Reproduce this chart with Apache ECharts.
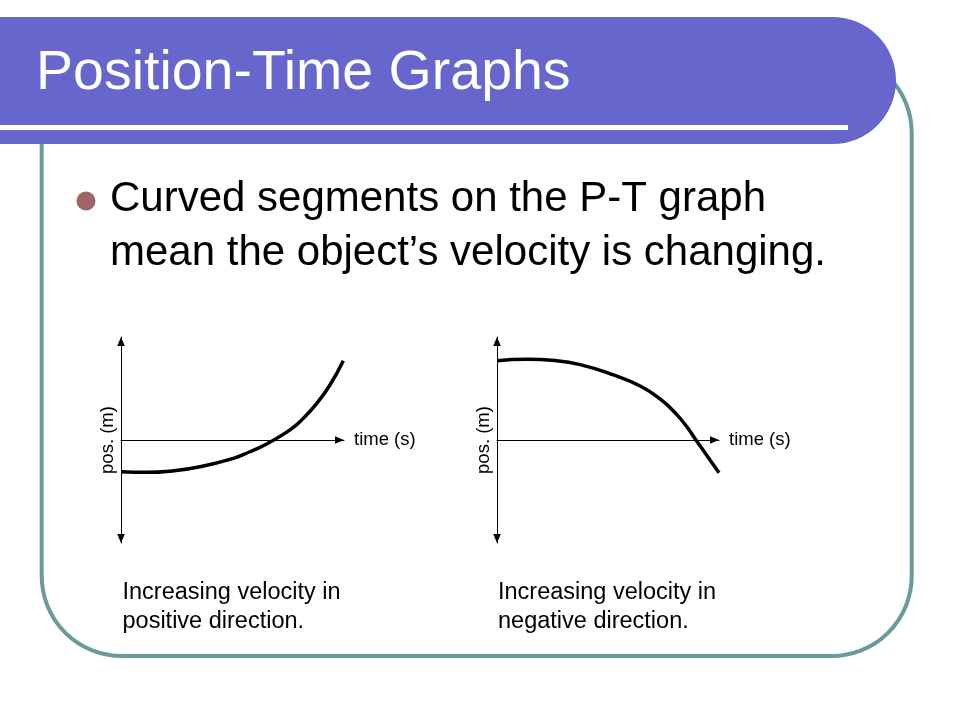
<!DOCTYPE html>
<html>
<head>
<meta charset="utf-8">
<title>Position-Time Graphs</title>
<script src="https://cdn.jsdelivr.net/npm/echarts@6/dist/echarts.min.js"></script>
<style>
  html, body { margin: 0; padding: 0; background: #fff; }
  #chart { width: 960px; height: 720px; }
</style>
</head>
<body>
<div id="chart"></div>
<script>
var FONT = '"Liberation Sans", Arial, sans-serif';

// slide text
var titleText = 'Position-Time Graphs';
var bulletLines = ['Curved segments on the P-T graph', 'mean the object\u2019s velocity is changing.'];
var leftCaption = ['Increasing velocity in', 'positive direction.'];
var rightCaption = ['Increasing velocity in', 'negative direction.'];
var xName = 'time (s)';
var yName = 'pos. (m)';

// curves: time 0..10, position -5..5
var leftTime = [0, 1.15, 2.3, 3.54, 5.04, 5.78, 6.53, 7.58, 8.17, 8.78, 9.37, 9.97];
var leftPos = [-1.54, -1.57, -1.50, -1.30, -0.89, -0.57, -0.19, 0.49, 1.05, 1.78, 2.67, 3.85];
var rightTime = [0, 1.35, 2.6, 3.75, 5.25, 6.45, 7.36, 8.11, 8.56, 8.93, 9.46, 10];
var rightPos = [3.85, 3.92, 3.86, 3.66, 3.16, 2.62, 1.98, 1.22, 0.63, 0.05, -0.76, -1.59];

function zip(a, b) {
  return a.map(function (v, i) { return [v, b[i]]; });
}

function xAxisFor(gi) {
  return {
    type: 'value', gridIndex: gi, min: 0, max: 10,
    name: xName, nameLocation: 'end', nameGap: 10,
    nameTextStyle: { color: '#000', fontSize: 18.5, fontFamily: FONT, padding: [3, 0, 0, 0] },
    axisLine: {
      onZero: true, lineStyle: { color: '#000', width: 1 },
      symbol: ['none', 'triangle'], symbolSize: [7.5, 9], symbolOffset: [0, -4.5]
    },
    axisTick: { show: false }, axisLabel: { show: false }, splitLine: { show: false }
  };
}

function yAxisFor(gi) {
  return {
    type: 'value', gridIndex: gi, min: -5, max: 5,
    name: yName, nameLocation: 'middle', nameRotate: 90, nameGap: 4,
    nameTextStyle: { color: '#000', fontSize: 18.5, fontFamily: FONT },
    axisLine: {
      onZero: true, lineStyle: { color: '#000', width: 1 },
      symbol: ['triangle', 'triangle'], symbolSize: [7.5, 9], symbolOffset: [4.5, -4.5]
    },
    axisTick: { show: false }, axisLabel: { show: false }, splitLine: { show: false }
  };
}

function curve(gi, data) {
  return {
    type: 'line', xAxisIndex: gi, yAxisIndex: gi, data: data,
    smooth: 0.5, showSymbol: false, silent: true,
    lineStyle: { color: '#000', width: 3.5, cap: 'butt' }
  };
}

function text(str, x, y, size, color) {
  return {
    type: 'text', x: x, y: y,
    style: { text: str, fill: color, fontSize: size, fontFamily: FONT, verticalAlign: 'middle', align: 'left' }
  };
}

var graphics = [
  // teal frame
  { type: 'rect', z: -10, shape: { x: 41.7, y: 53, width: 870, height: 603, r: 80 },
    style: { fill: '#fff', stroke: '#6A9A9A', lineWidth: 4 } },
  // title band
  { type: 'rect', z: -5, shape: { x: -10, y: 17, width: 906, height: 127, r: [0, 63.5, 63.5, 0] },
    style: { fill: '#6666CC' } },
  { type: 'rect', z: -4, shape: { x: 0, y: 125, width: 848, height: 5 }, style: { fill: '#fff' } },
  text(titleText, 36, 74, 55.5, '#fff'),
  // bullet
  { type: 'circle', shape: { cx: 86, cy: 201, r: 9.5 }, style: { fill: '#9E6565' } },
  text(bulletLines[0], 110, 199, 42, '#000'),
  text(bulletLines[1], 110, 253, 42, '#000'),
  text(leftCaption[0], 122.5, 593, 23.5, '#000'),
  text(leftCaption[1], 122.5, 622, 23.5, '#000'),
  text(rightCaption[0], 498, 593, 23.5, '#000'),
  text(rightCaption[1], 498, 622, 23.5, '#000')
];

var chart = echarts.init(document.getElementById('chart'), null, { renderer: 'canvas' });
chart.setOption({
  animation: false,
  backgroundColor: '#fff',
  graphic: graphics,
  grid: [
    { left: 121, top: 337, width: 223, height: 206, containLabel: false },
    { left: 497, top: 337, width: 222, height: 206, containLabel: false }
  ],
  xAxis: [xAxisFor(0), xAxisFor(1)],
  yAxis: [yAxisFor(0), yAxisFor(1)],
  series: [
    curve(0, zip(leftTime, leftPos)),
    curve(1, zip(rightTime, rightPos))
  ]
});
</script>
</body>
</html>
